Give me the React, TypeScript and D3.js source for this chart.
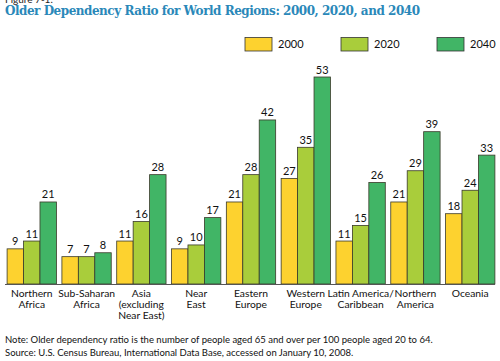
import React, { useRef, useEffect } from 'react';
import * as d3 from 'd3';

// regions and their label lines
const regions = [
  'Northern Africa',
  'Sub-Saharan Africa',
  'Asia (excluding Near East)',
  'Near East',
  'Eastern Europe',
  'Western Europe',
  'Latin America/Caribbean',
  'Northern America',
  'Oceania',
];
const regionLines = [
  ['Northern', 'Africa'],
  ['Sub-Saharan', 'Africa'],
  ['Asia', '(excluding', 'Near East)'],
  ['Near', 'East'],
  ['Eastern', 'Europe'],
  ['Western', 'Europe'],
  ['Latin America/', 'Caribbean'],
  ['Northern', 'America'],
  ['Oceania'],
];
const years = ['2000', '2020', '2040'];
const values2000 = [9, 7, 11, 9, 21, 27, 11, 21, 18];
const values2020 = [11, 7, 16, 10, 28, 35, 15, 29, 24];
const values2040 = [21, 8, 28, 17, 42, 53, 26, 39, 33];
const colors = ['#fdd22f', '#a9cd3b', '#41b566'];

const App = () => {
  const svgRef = useRef<SVGSVGElement>(null);

  useEffect(() => {
    const width = 500;
    const height = 361;
    const svg = d3.select(svgRef.current).attr('width', width).attr('height', height);
    svg.selectAll('*').remove();

    const series = [values2000, values2020, values2040];
    const font = 'Lato, "Open Sans", sans-serif';

    // clipped figure number at the top
    svg.append('text')
      .attr('x', 5).attr('y', 3)
      .attr('font-family', font).attr('font-size', 10)
      .attr('fill', '#222')
      .text('Figure 7-1.');

    // title
    svg.append('text')
      .attr('x', 5).attr('y', 15)
      .attr('font-family', '"DejaVu Serif", serif')
      .attr('font-weight', 'bold')
      .attr('font-size', 12)
      .attr('fill', '#2a88b9')
      .attr('textLength', 415)
      .text('Older Dependency Ratio for World Regions: 2000, 2020, and 2040');

    // legend
    const legendX = [245, 341, 437];
    years.forEach((y, i) => {
      svg.append('rect')
        .attr('x', legendX[i]).attr('y', 37.5)
        .attr('width', 27).attr('height', 13.5)
        .attr('fill', colors[i])
        .attr('stroke', '#333').attr('stroke-width', 0.8);
      svg.append('text')
        .attr('x', legendX[i] + 33).attr('y', 48)
        .attr('font-family', font).attr('font-size', 11)
        .attr('fill', '#111')
        .text(y);
    });

    const x0 = d3.scaleBand().domain(regions).range([6, 496]).paddingInner(0.1).paddingOuter(0.02);
    const x1 = d3.scaleBand().domain(years).range([0, x0.bandwidth()]);
    const yScale = d3.scaleLinear().domain([0, 53]).range([284, 77]);

    const groups = svg.append('g').selectAll('g')
      .data(regions)
      .join('g')
      .attr('transform', d => `translate(${x0(d)},0)`);

    years.forEach((yr, si) => {
      groups.append('rect')
        .attr('x', x1(yr)!)
        .attr('y', (d, i) => yScale(series[si][i]))
        .attr('width', x1.bandwidth())
        .attr('height', (d, i) => yScale(0) - yScale(series[si][i]))
        .attr('fill', colors[si])
        .attr('stroke', '#3a3a2a').attr('stroke-width', 0.8);

      groups.append('text')
        .attr('x', x1(yr)! + x1.bandwidth() / 2)
        .attr('y', (d, i) => yScale(series[si][i]) - 3.5)
        .attr('text-anchor', 'middle')
        .attr('font-family', font).attr('font-size', 11)
        .attr('fill', '#111')
        .text((d, i) => series[si][i]);
    });

    // baseline
    svg.append('line')
      .attr('x1', 5).attr('x2', 495)
      .attr('y1', 284.5).attr('y2', 284.5)
      .attr('stroke', '#555').attr('stroke-width', 1);

    // category labels, one text per line
    groups.each(function (d, i) {
      const g = d3.select(this);
      regionLines[i].forEach((line, li) => {
        g.append('text')
          .attr('x', x0.bandwidth() / 2)
          .attr('y', 297 + li * 11)
          .attr('text-anchor', 'middle')
          .attr('font-family', font).attr('font-size', 10.3)
          .attr('fill', '#111')
          .text(line);
      });
    });

    // notes
    svg.append('text')
      .attr('x', 5).attr('y', 343)
      .attr('font-family', font).attr('font-size', 9.5)
      .attr('fill', '#111')
      .text('Note: Older dependency ratio is the number of people aged 65 and over per 100 people aged 20 to 64.');
    svg.append('text')
      .attr('x', 5).attr('y', 356)
      .attr('font-family', font).attr('font-size', 9.5)
      .attr('fill', '#111')
      .text('Source:  U.S. Census Bureau, International Data Base, accessed on January 10, 2008.');
  }, []);

  return <svg ref={svgRef} style={{ position: 'absolute', left: 0, top: 0 }}></svg>;
};

export default App;
